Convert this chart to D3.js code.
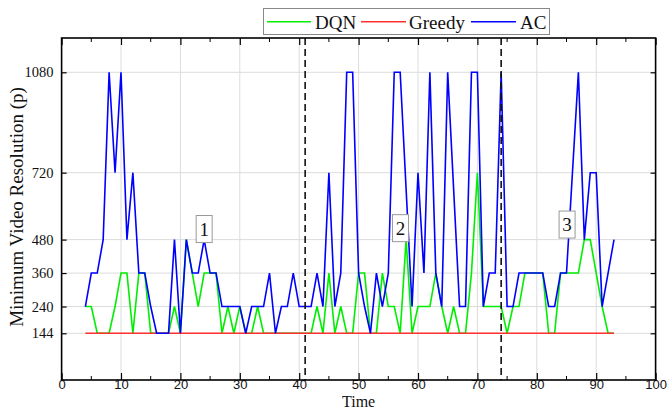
<!DOCTYPE html>
<html>
<head>
<meta charset="utf-8">
<script src="https://cdn.jsdelivr.net/npm/d3@7"></script>
<style>
  html, body { margin: 0; padding: 0; background: #fff; }
  svg { display: block; }
</style>
</head>
<body>
<svg id="chart" width="668" height="411"></svg>
<script>
// ---------- data ----------
const time = d3.range(4, 94); // 4..93
const dqn = [240,240,144,144,144,240,360,360,144,360,360,144,144,144,144,240,144,480,360,240,
             360,360,360,144,240,144,240,144,144,240,144,144,144,144,144,144,144,144,144,240,
             144,360,144,240,144,144,360,360,144,144,360,240,240,144,480,144,240,240,240,360,
             240,144,240,144,144,360,720,240,240,240,240,144,240,240,360,360,360,360,144,144,
             360,360,360,360,480,480,360,240,144,144];
const greedy = time.map(() => 144);
const ac = [240,360,360,480,1080,720,1080,480,720,360,360,240,144,144,144,480,144,480,360,360,
            480,360,360,240,240,240,240,144,240,240,240,360,144,240,240,360,240,240,240,360,
            240,720,240,360,1080,1080,360,240,144,360,240,360,1080,1080,660,240,720,360,1080,360,
            240,1080,660,240,240,1080,1080,240,360,360,1080,240,240,360,360,360,360,360,240,240,
            360,360,720,1080,480,720,720,240,360,480];
const xTicks = [0,10,20,30,40,50,60,70,80,90,100];
const xMinorTicks = [5,15,25,35,45,55,65,75,85,95];
const yTicks = [144,240,360,480,720,1080];
const dashedAt = [41, 74];
const annotations = [{label:"1", t:24.0, v:518}, {label:"2", t:57.05, v:521}, {label:"3", t:85.1, v:534}];
const seriesNames = ["DQN", "Greedy", "AC"];
const seriesColors = ["#00ee00", "#ff3030", "#0000ff"];

// ---------- layout ----------
const L = 61.6, R = 655.6, T = 38, B = 380;
const svg = d3.select("#chart");
const x = d3.scaleLinear().domain([0, 100]).range([L, R]);
const y = d3.scaleLinear().domain([-23.5, 1203]).range([B, T]);
const serif = "'Liberation Serif', 'Times New Roman', serif";
const sans = "'Liberation Sans', Arial, sans-serif";

// grid
const grid = svg.append("g");
grid.selectAll("line.vx").data(xTicks.filter(d => d > 0 && d < 100)).join("line")
  .attr("x1", d => x(d)).attr("x2", d => x(d)).attr("y1", T).attr("y2", B)
  .attr("stroke", "#dcdcdc").attr("stroke-width", 1);
grid.selectAll("line.hy").data(yTicks).join("line")
  .attr("x1", L).attr("x2", R).attr("y1", d => y(d)).attr("y2", d => y(d))
  .attr("stroke", "#dcdcdc").attr("stroke-width", 1);

// series
const seriesData = [dqn, greedy, ac];
const line = d3.line().x((d, i) => x(time[i])).y(d => y(d));
seriesData.forEach((s, k) => {
  svg.append("path").datum(s).attr("d", line)
    .attr("fill", "none").attr("stroke", seriesColors[k]).attr("stroke-width", 1.6)
    .attr("stroke-linejoin", "miter");
});

// dashed vertical lines
svg.selectAll("line.dash").data(dashedAt).join("line")
  .attr("x1", d => x(d)).attr("x2", d => x(d)).attr("y1", T).attr("y2", B)
  .attr("stroke", "#111").attr("stroke-width", 1.6).attr("stroke-dasharray", "7,4");

// axes (inward ticks)
const bottomAxis = d3.axisBottom(x).tickValues(xTicks).tickSize(-7).tickPadding(0).tickFormat(d3.format("d"));
const gB = svg.append("g").attr("transform", `translate(0,${B})`).call(bottomAxis);
gB.selectAll("text").attr("font-family", sans).attr("font-size", 13).attr("fill", "#111");
gB.append("g").selectAll("line").data(xMinorTicks).join("line")
  .attr("x1", d => x(d)).attr("x2", d => x(d)).attr("y1", 0).attr("y2", -4).attr("stroke", "#000");

const topAxis = d3.axisTop(x).tickValues(xTicks).tickSize(-7).tickFormat("");
const gT = svg.append("g").attr("transform", `translate(0,${T})`).call(topAxis);
gT.append("g").selectAll("line").data(xMinorTicks).join("line")
  .attr("x1", d => x(d)).attr("x2", d => x(d)).attr("y1", 0).attr("y2", 4).attr("stroke", "#000");

const leftAxis = d3.axisLeft(y).tickValues(yTicks).tickSize(-5).tickPadding(8).tickFormat(d3.format("d"));
const gL = svg.append("g").attr("transform", `translate(${L},0)`).call(leftAxis);
gL.selectAll("text").attr("font-family", serif).attr("font-size", 14.5).attr("fill", "#111");

const rightAxis = d3.axisRight(y).tickValues(yTicks).tickSize(-5).tickFormat("");
svg.append("g").attr("transform", `translate(${R},0)`).call(rightAxis);

svg.selectAll("path.domain").remove();
svg.selectAll(".tick line").attr("stroke", "#000").attr("stroke-width", 1.2);

// frame
svg.append("rect").attr("x", L).attr("y", T).attr("width", R - L).attr("height", B - T)
  .attr("fill", "none").attr("stroke", "#000").attr("stroke-width", 1.6);

// annotation boxes
annotations.forEach(a => {
  const g = svg.append("g").attr("transform", `translate(${x(a.t)},${y(a.v)})`);
  g.append("rect").attr("x", -8).attr("y", -13.5).attr("width", 16).attr("height", 27)
    .attr("fill", "#fff").attr("stroke", "#999").attr("stroke-width", 1);
  g.append("text").attr("text-anchor", "middle").attr("y", 6.5)
    .attr("font-family", serif).attr("font-size", 19).attr("fill", "#111").text(a.label);
});

// axis titles
svg.append("text").attr("x", (L + R) / 2).attr("y", 407.3).attr("text-anchor", "middle")
  .attr("font-family", serif).attr("font-size", 16).attr("fill", "#111").text("Time");
svg.append("text").attr("transform", `translate(23,${(T + B) / 2 - 2}) rotate(-90)`)
  .attr("text-anchor", "middle").attr("font-family", serif).attr("font-size", 19).attr("fill", "#111")
  .text("Minimum Video Resolution (p)");

// legend
const lg = svg.append("g");
lg.append("rect").attr("x", 263.5).attr("y", 8.5).attr("width", 286).attr("height", 26)
  .attr("fill", "#fff").attr("stroke", "#888").attr("stroke-width", 1);
const legendX = [[267, 311, 315], [361, 406, 409], [471, 516, 520]];
seriesNames.forEach((n, k) => {
  lg.append("line").attr("x1", legendX[k][0]).attr("x2", legendX[k][1]).attr("y1", 21.7).attr("y2", 21.7)
    .attr("stroke", seriesColors[k]).attr("stroke-width", 1.4);
  lg.append("text").attr("x", legendX[k][2]).attr("y", 28.5)
    .attr("font-family", serif).attr("font-size", 19).attr("fill", "#111").text(n);
});
</script>
</body>
</html>
